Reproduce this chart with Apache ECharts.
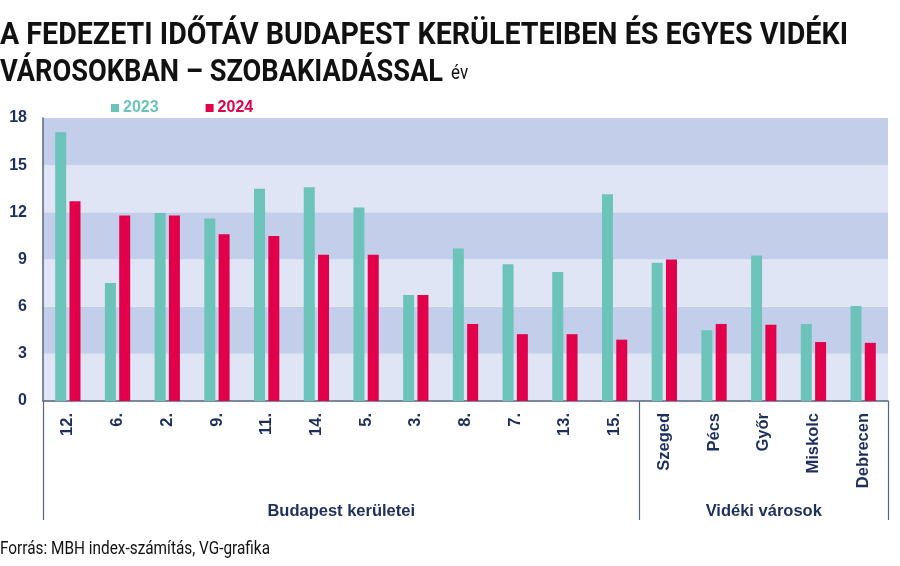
<!DOCTYPE html>
<html><head><meta charset="utf-8">
<script src="https://cdn.jsdelivr.net/npm/echarts@6/dist/echarts.min.js"></script>
<style>html,body{margin:0;padding:0;background:#fff}#c{width:900px;height:566px}</style>
</head><body><div id="c"></div>
<script>
const categories = ['12.','6.','2.','9.','11.','14.','5.','3.','8.','7.','13.','15.','Szeged','Pécs','Győr','Miskolc','Debrecen'];
const values2023 = [17.1,7.5,11.95,11.6,13.5,13.6,12.3,6.75,9.7,8.7,8.2,13.15,8.8,4.5,9.25,4.9,6.05];
const values2024 = [12.7,11.8,11.8,10.6,10.5,9.3,9.3,6.75,4.9,4.25,4.25,3.9,9.0,4.9,4.85,3.75,3.7];
const groupNames = ['Budapest kerületei','Vidéki városok'];
const groupSizes = [12,5];
const yTicks = [0,3,6,9,12,15,18];
const titleLine1 = 'A FEDEZETI IDŐTÁV BUDAPEST KERÜLETEIBEN ÉS EGYES VIDÉKI';
const titleLine2 = 'VÁROSOKBAN – SZOBAKIADÁSSAL';
const titleUnit = 'év';
const sourceText = 'Forrás: MBH index-számítás, VG-grafika';

const navy = '#1e2f5e';
const lineCol = '#55647f';
const bounds = [0]; const centers = [];
groupSizes.forEach((s,i)=>{ centers.push(bounds[i] + s/2); bounds.push(bounds[i]+s); });

const ctx = document.createElement('canvas').getContext('2d');
function measure(font, txt){ ctx.font = font; return ctx.measureText(txt).width; }
const tFont = 'bold 32px Roboto';
const tScale1 = 848 / measure(tFont, titleLine1);
const tScale2 = 443 / measure(tFont, titleLine2);
const uFont = '20px Roboto';
const sFont = '18px Roboto';
const sScale = 270 / measure(sFont, sourceText);

const chart = echarts.init(document.getElementById('c'), null, {renderer:'canvas'});
chart.setOption({
  animation:false,
  backgroundColor:'#fff',
  graphic:[
    {type:'text', x:0, y:20, scaleX:tScale1, style:{text:titleLine1, font:tFont, fill:'#111', textVerticalAlign:'top'}},
    {type:'text', x:0, y:57, scaleX:tScale2, style:{text:titleLine2, font:tFont, fill:'#111', textVerticalAlign:'top'}},
    {type:'text', x:451, y:84, scaleX:0.85, style:{text:titleUnit, font:uFont, fill:'#111', textVerticalAlign:'bottom'}},
    {type:'text', x:0, y:540, scaleX:sScale, style:{text:sourceText, font:sFont, fill:'#111', textVerticalAlign:'top'}}
  ],
  legend:{
    left:106, top:95, itemWidth:8, itemHeight:8, itemGap:47, icon:'rect',
    textStyle:{fontFamily:'Liberation Sans', fontWeight:'bold', fontSize:16, padding:[0,0,0,-1]},
    data:[{name:'2023', textStyle:{color:'#6cc3b9'}},{name:'2024', textStyle:{color:'#e2004b'}}]
  },
  grid:{left:43, right:12, top:118, bottom:165, containLabel:false},
  xAxis:[{
    type:'category', data:categories,
    axisLine:{show:true, lineStyle:{color:lineCol, width:1.5}},
    axisTick:{show:false},
    axisLabel:{rotate:90, margin:12, color:navy, fontFamily:'Liberation Sans', fontWeight:'bold', fontSize:16.5, interval:0}
  },{
    type:'value', min:0, max:categories.length, position:'bottom',
    axisLine:{show:false}, splitLine:{show:false},
    axisTick:{show:true, customValues:bounds, length:119, lineStyle:{color:lineCol, width:1.2}},
    axisLabel:{customValues:centers, margin:102, color:navy, fontFamily:'Liberation Sans', fontWeight:'bold', fontSize:16.5,
      formatter:(v)=>{ const i=centers.findIndex(c=>Math.abs(c-v)<1e-6); return i>=0?groupNames[i]:''; }}
  }],
  yAxis:{
    type:'value', min:0, max:18, interval:3,
    axisLine:{show:true, lineStyle:{color:lineCol, width:1.5}},
    axisTick:{show:false},
    splitLine:{show:false},
    splitArea:{show:true, areaStyle:{color:['#dfe5f5','#c3cfea']}},
    axisLabel:{margin:16, color:navy, fontFamily:'Liberation Sans', fontWeight:'bold', fontSize:16,
      customValues:yTicks}
  },
  series:[
    {name:'2023', type:'bar', xAxisIndex:0, data:values2023, barWidth:11, barGap:'30%', itemStyle:{color:'#6cc3b9'}},
    {name:'2024', type:'bar', xAxisIndex:0, data:values2024, barWidth:11, itemStyle:{color:'#e2004b'}}
  ]
});
</script></body></html>
